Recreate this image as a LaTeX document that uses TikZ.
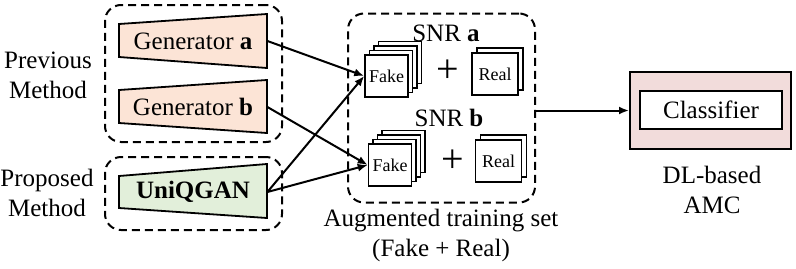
\documentclass[tikz,border=0pt]{standalone}
\usepackage{fontspec}
\setmainfont{Liberation Serif}
\usepackage{tikz}
\usetikzlibrary{arrows.meta}

\definecolor{genorange}{RGB}{252,228,214}
\definecolor{gangreen}{RGB}{226,239,218}
\definecolor{amcpink}{RGB}{242,220,219}

\tikzset{
  grp/.style={draw,dash pattern=on 4pt off 2.5pt,line width=1pt,rounded corners=8pt,inner sep=0pt},
  gen/.style={inner sep=0pt,minimum width=74pt,minimum height=27pt},
  sq/.style={draw,fill=white,line width=0.8pt,inner sep=0pt,minimum width=21.5pt,minimum height=21pt,font=\fontsize{9}{10}\selectfont},
  arr/.style={-{Latex[length=5pt,width=4pt]},line width=1pt},
}

\begin{document}
\begin{tikzpicture}[x=0.5pt,y=-0.5pt,font=\fontsize{12.5}{15}\selectfont]
\useasboundingbox (0,0) rectangle (796,268);

% dashed groups
\node[grp,minimum width=88.5pt,minimum height=68.5pt] (prev) at (193.5,73.5) {};
\node[grp,minimum width=88.5pt,minimum height=36.5pt] (prop) at (193.5,193.5) {};
\node[grp,minimum width=93.5pt,minimum height=94.5pt] (augset) at (441.5,108) {};

\node[align=center] (prevlbl) at (48,75) {Previous\\Method};
\node[align=center] (proplbl) at (47,193) {Proposed\\Method};

% generators
\draw[fill=genorange,line width=0.9pt] (119,24) -- (267,14) -- (267,68) -- (119,57) -- cycle;
\draw[fill=genorange,line width=0.9pt] (119,90) -- (267,80) -- (267,133) -- (119,123) -- cycle;
\draw[fill=gangreen,line width=0.9pt] (119,176) -- (267,164) -- (267,218) -- (119,208) -- cycle;
\node[gen] (gena) at (193,41) {Generator \textbf{a}};
\node[gen] (genb) at (193,107) {Generator \textbf{b}};
\node[gen] (uniq) at (193,192) {\textbf{UniQGAN}};

% augmented set
\node (snra) at (446,33) {SNR \textbf{a}};
\node (snrb) at (449,118) {SNR \textbf{b}};
\foreach \k in {3,2,1} {
  \node[sq,xshift=2.25*\k pt,yshift=2.25*\k pt] at (386.5,76) {};
  \node[sq,xshift=2.25*\k pt,yshift=2.25*\k pt] at (390,165) {};
}
\node[sq] (fa) at (386.5,76) {Fake};
\node[sq] (fb) at (390,165) {Fake};
\node[sq,minimum width=23pt,xshift=2.5pt,yshift=2.5pt] at (495,74) {};
\node[sq,minimum width=23pt] (ra) at (495,74) {Real};
\node[sq,minimum width=23pt,xshift=2.5pt,yshift=2.5pt] at (498.5,161) {};
\node[sq,minimum width=23pt] (rb) at (498.5,161) {Real};
\node[font=\fontsize{20}{20}\selectfont] (plusa) at (448,71) {+};
\node[font=\fontsize{20}{20}\selectfont] (plusb) at (453,161) {+};
\node[align=center] (auglbl) at (441,235) {Augmented training set\\(Fake + Real)};

% classifier
\node[draw,fill=amcpink,line width=1pt,minimum width=80.5pt,minimum height=38.5pt] (amc) at (710.5,110.5) {};
\node[draw,fill=white,line width=1pt,minimum width=71pt,minimum height=19pt] (cls) at (711,110) {Classifier};
\node[align=center] (amclbl) at (712,190) {DL-based\\AMC};

% connections
\draw[arr] (gena.east) -- (fa.west);
\draw[arr] (uniq.east) -- (fa.west);
\draw[arr] (genb.east) -- (fb.west);
\draw[arr] (uniq.east) -- (fb.west);
\draw[arr] (augset.east |- amc.west) -- (amc.west);
\end{tikzpicture}
\end{document}
